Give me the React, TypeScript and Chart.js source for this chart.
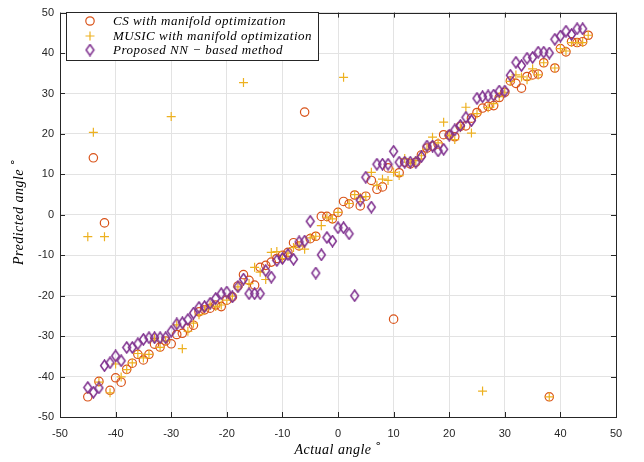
import React, { useEffect, useRef } from "react";
import { Chart, registerables } from "chart.js";
Chart.register(...registerables);

// Actual angles (shared x values)
const actualAngles = [
  -45, -44, -43, -42, -41, -40, -39, -38, -37, -36, -35, -34, -33, -32, -31, -30,
  -29, -28, -27, -26, -25, -24, -23, -22, -21, -20, -19, -18, -17, -16, -15, -14,
  -13, -12, -11, -10, -9, -8, -7, -6, -5, -4, -3, -2, -1, 0, 1, 2, 3, 4, 5, 6, 7,
  8, 9, 10, 11, 12, 13, 14, 15, 16, 17, 18, 19, 20, 21, 22, 23, 24, 25, 26, 27, 28,
  29, 30, 31, 32, 33, 34, 35, 36, 37, 38, 39, 40, 41, 42, 43, 44, 45,
];

// CS with manifold optimization (predicted)
const csPredicted = [
  -45, 14.1, -41.2, -2.0, -43.4, -40.3, -41.4, -38.2, -36.7, -34.5, -35.9, -34.5, -32.0, -32.7, -31.2, -31.9,
  -29.6, -29.3, -28.0, -27.3, -24.0, -23.5, -23.1, -22.3, -22.7, -21.1, -20.3, -17.6, -14.8, -16.2, -17.4, -13.0,
  -12.5, -11.7, -10.8, -10.0, -9.3, -6.9, -7.7, 25.4, -5.9, -5.3, -0.4, -0.4, -1.0, 0.6, 3.3, 2.7, 4.9, 2.2, 4.6, 8.5, 6.3,
  6.9, 11.6, -25.8, 10.4, 13.0, 12.6, 13.0, 14.8, 16.5, 17.0, 17.5, 19.8, 19.7, 19.3, 21.9, 22.0, 23.9, 25.3, 26.4, 26.8, 27.0,
  29.0, 30.3, 33.1, 32.5, 31.3, 34.2, 34.6, 34.8, 37.6, -45.0, 36.3, 41.1, 40.3, 42.8, 42.6, 42.8, 44.4,
];

// MUSIC with manifold optimization (predicted)
const musicPredicted = [
  -5.4, 20.4, -41.4, -5.4, -44.0, -36.9, -40.1, -38.3, -36.6, -34.3, -35.4, -34.5, -30.6, -32.8, -31.2, 24.3,
  -27.2, -33.1, -28.8, -26.8, -24.7, -23.5, -22.3, -22.7, -22.3, -21.1, -20.1, -17.8, 32.7, -17.0, -13.0, -14.2,
  -16.0, -9.3, -9.1, -10.8, -9.5, -8.1, -7.7, -8.5, -5.7, -5.3, -2.7, -0.6, -1.0, 0.6, 34.0, 2.8, 5.0, 4.3, 4.5, 10.5, 7.3,
  8.8, 8.5, 10.5, 9.7, 13.9, 12.7, 13.4, 14.6, 16.2, 19.2, 17.8, 22.9, 19.6, 18.6, 21.5, 26.6, 20.2, 25.0, -43.6, 26.5, 27.5,
  29.2, 30.3, 33.0, 34.6, 34.1, 33.4, 36.1, 34.6, 37.6, -45.0, 36.3, 41.1, 40.5, 42.6, 42.6, 42.6, 44.4,
];

// Proposed NN-based method (predicted), x = -45 .. 44
const nnPredicted = [
  -42.7, -43.9, -42.8, -37.3, -36.6, -34.9, -36.1, -32.8, -32.8, -31.9, -30.8, -30.4, -30.4, -30.4, -30.4, -28.8,
  -27.0, -26.7, -25.9, -24.3, -22.9, -22.7, -21.9, -20.7, -19.5, -19.1, -20.3, -17.8, -15.9, -19.5, -19.5, -19.5,
  -13.8, -15.4, -11.3, -10.8, -9.8, -11.0, -6.7, -6.5, -1.6, -14.4, -9.9, -5.6, -6.5, -3.2, -3.2, -4.7, -20.0, 3.6, 9.3, 1.9, 12.5,
  12.5, 12.5, 15.7, 13.0, 13.0, 13.0, 13.0, 14.4, 17.0, 17.0, 15.8, 16.2, 19.7, 21.0, 22.1, 24.1, 23.3, 28.8, 29.2, 29.4, 29.6,
  30.6, 30.6, 34.5, 37.7, 36.9, 38.7, 38.9, 40.2, 40.2, 40.0, 43.4, 44.2, 45.4, 44.6, 46.0, 46.0,
];

const seriesLabels = [
  "CS with manifold optimization",
  "MUSIC with manifold optimization",
  "Proposed NN \u2212 based method",
];
const axisTicks = [-50, -40, -30, -20, -10, 0, 10, 20, 30, 40, 50];

const CS_COLOR = "#D95319";
const MUSIC_COLOR = "#EDB120";
const NN_COLOR = "#7E2F8E";
const AXIS_COLOR = "#262626";
const GRID_COLOR = "#e3e3e3";

function makeDiamond(): HTMLCanvasElement {
  const c = document.createElement("canvas");
  c.width = 11;
  c.height = 13;
  const ctx = c.getContext("2d")!;
  ctx.strokeStyle = NN_COLOR;
  ctx.lineWidth = 1.5;
  ctx.beginPath();
  ctx.moveTo(5.5, 1);
  ctx.lineTo(9.4, 6.5);
  ctx.lineTo(5.5, 12);
  ctx.lineTo(1.6, 6.5);
  ctx.closePath();
  ctx.stroke();
  return c;
}

function pts(ys: number[]) {
  return ys.map((y, i) => ({ x: actualAngles[i], y }));
}

export default function App() {
  const ref = useRef<HTMLCanvasElement | null>(null);
  useEffect(() => {
    if (!ref.current) return;
    const diamond = makeDiamond();

    const framePlugin = {
      id: "frame",
      afterDatasetsDraw(chart: any) {
        const { ctx, chartArea: a, scales } = chart;
        ctx.save();
        ctx.strokeStyle = AXIS_COLOR;
        ctx.lineWidth = 1;
        ctx.strokeRect(Math.round(a.left) + 0.5, Math.round(a.top) + 0.5, Math.round(a.right - a.left), Math.round(a.bottom - a.top));
        const tl = 5;
        axisTicks.forEach((v) => {
          const x = Math.round(scales.x.getPixelForValue(v)) + 0.5;
          ctx.beginPath();
          ctx.moveTo(x, a.bottom);
          ctx.lineTo(x, a.bottom - tl);
          ctx.moveTo(x, a.top);
          ctx.lineTo(x, a.top + tl);
          ctx.stroke();
          const y = Math.round(scales.y.getPixelForValue(v)) + 0.5;
          ctx.beginPath();
          ctx.moveTo(a.left, y);
          ctx.lineTo(a.left + tl, y);
          ctx.moveTo(a.right, y);
          ctx.lineTo(a.right - tl, y);
          ctx.stroke();
        });
        ctx.restore();
      },
      afterDraw(chart: any) {
        const { ctx } = chart;
        ctx.save();
        const lx = 66.5, ly = 12.5, lw = 252, lh = 48;
        ctx.fillStyle = "#ffffff";
        ctx.fillRect(lx, ly, lw, lh);
        ctx.strokeStyle = AXIS_COLOR;
        ctx.lineWidth = 1;
        ctx.strokeRect(lx, ly, lw, lh);
        const rows = [21, 36, 50];
        const mx = 90;
        ctx.strokeStyle = CS_COLOR;
        ctx.lineWidth = 1.2;
        ctx.beginPath();
        ctx.arc(mx, rows[0], 4.2, 0, Math.PI * 2);
        ctx.stroke();
        ctx.strokeStyle = MUSIC_COLOR;
        ctx.beginPath();
        ctx.moveTo(mx - 4.5, rows[1]);
        ctx.lineTo(mx + 4.5, rows[1]);
        ctx.moveTo(mx, rows[1] - 4.5);
        ctx.lineTo(mx, rows[1] + 4.5);
        ctx.stroke();
        ctx.drawImage(diamond, mx - 5.5, rows[2] - 6.5);
        ctx.fillStyle = "#000";
        ctx.font = "italic 13px 'Liberation Serif', serif";
        (ctx as any).letterSpacing = "0.5px";
        ctx.textBaseline = "middle";
        ctx.textAlign = "left";
        seriesLabels.forEach((t, i) => ctx.fillText(t, 113, rows[i] + 0.5));

        ctx.font = "italic 14px 'Liberation Serif', serif";
        (ctx as any).letterSpacing = "0.5px";
        ctx.textBaseline = "alphabetic";
        const xt = "Actual angle";
        const w = ctx.measureText(xt).width;
        const cx = 338;
        ctx.fillText(xt, cx - (w + 10) / 2, 454);
        ctx.font = "11px 'DejaVu Sans', sans-serif";
        (ctx as any).letterSpacing = "0px";
        ctx.fillText("\u2218", cx - (w + 10) / 2 + w + 3, 447);

        ctx.translate(23, 212);
        ctx.rotate(-Math.PI / 2);
        ctx.font = "italic 14px 'Liberation Serif', serif";
        (ctx as any).letterSpacing = "0.5px";
        const yt = "Predicted angle";
        const w2 = ctx.measureText(yt).width;
        ctx.fillText(yt, -(w2 + 10) / 2, 0);
        ctx.font = "11px 'DejaVu Sans', sans-serif";
        (ctx as any).letterSpacing = "0px";
        ctx.fillText("\u2218", -(w2 + 10) / 2 + w2 + 3, -7);
        ctx.restore();
      },
    };

    const chart = new Chart(ref.current, {
      type: "scatter",
      data: {
        datasets: [
          {
            label: seriesLabels[0],
            data: pts(csPredicted),
            pointStyle: "circle",
            radius: 4.2,
            borderColor: CS_COLOR,
            backgroundColor: "rgba(0,0,0,0)",
            borderWidth: 1.2,
            order: 3,
          },
          {
            label: seriesLabels[1],
            data: pts(musicPredicted),
            pointStyle: "cross",
            radius: 4.5,
            borderColor: MUSIC_COLOR,
            backgroundColor: MUSIC_COLOR,
            borderWidth: 1.2,
            order: 2,
          },
          {
            label: seriesLabels[2],
            data: pts(nnPredicted),
            pointStyle: diamond as any,
            radius: 5,
            borderColor: NN_COLOR,
            backgroundColor: "rgba(0,0,0,0)",
            order: 1,
          },
        ],
      },
      options: {
        animation: false,
        responsive: false,
        devicePixelRatio: 1,
        layout: { padding: { top: 6, right: 28, left: 0, bottom: 0 } },
        plugins: { legend: { display: false }, tooltip: { enabled: false } },
        scales: {
          x: {
            type: "linear",
            min: -50,
            max: 50,
            afterFit: (s: any) => { s.height = 45; },
            afterBuildTicks: (s: any) => { s.ticks = axisTicks.map((v) => ({ value: v })); },
            grid: { color: GRID_COLOR, drawTicks: false },
            border: { display: false },
            ticks: { color: AXIS_COLOR, padding: 10, font: { family: "'Liberation Sans', Arial, sans-serif", size: 11 } },
          },
          y: {
            type: "linear",
            min: -50,
            max: 50,
            afterFit: (s: any) => { s.width = 60; },
            afterBuildTicks: (s: any) => { s.ticks = axisTicks.map((v) => ({ value: v })); },
            grid: { color: GRID_COLOR, drawTicks: false },
            border: { display: false },
            ticks: { color: AXIS_COLOR, padding: 6, font: { family: "'Liberation Sans', Arial, sans-serif", size: 11 } },
          },
        },
      },
      plugins: [framePlugin],
    });
    return () => chart.destroy();
  }, []);

  return (
    <div style={{ position: "fixed", left: 0, top: 0, width: 644, height: 462, background: "#fff" }}>
      <canvas ref={ref} width={644} height={462} style={{ width: 644, height: 462 }} />
    </div>
  );
}
